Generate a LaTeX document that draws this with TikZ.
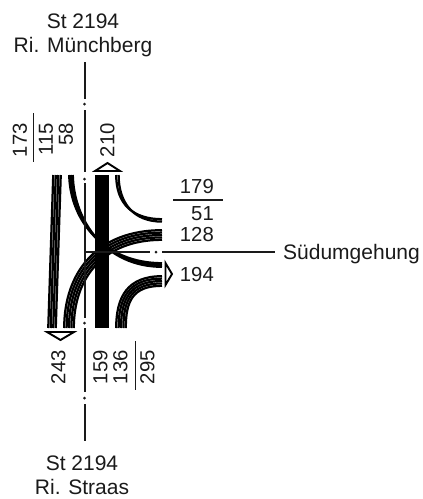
\documentclass[tikz,border=0pt]{standalone}
\usepackage{fontspec}
\setmainfont{Liberation Sans}
\definecolor{ink}{HTML}{1A1A1A}
\tikzset{
  lbl/.style={font=\fontsize{21}{24}\selectfont,inner sep=0pt,text=ink,anchor=base},
  numlbl/.style={font=\fontsize{20.3}{24}\selectfont,inner sep=0pt,text=ink,anchor=base east},
  vlbl/.style={font=\fontsize{20.3}{24}\selectfont,inner sep=0pt,text=ink,rotate=90,anchor=east},
  axis/.style={line width=2pt,ink},
  rulebar/.style={line width=1.8pt,ink},
  strand/.style={line width=2.25pt,black},
  arrowtri/.style={line width=1.9pt,black,fill=white,line join=miter}
}
\begin{document}
\begin{tikzpicture}[x=1pt,y=-1pt]
\useasboundingbox (0,0) rectangle (423,499);
% straight bundles
\foreach \o in {1.25,3.75,6.25,8.75}
  \draw[strand] ({52+\o},175) -- ({47+\o},328);
\foreach \o in {1.2,3.6,6,8.4,10.8,13.2}
  \draw[strand] ({95+\o},175) -- ({95+\o},328);
% turning bundles
\foreach \o in {1.2,3.6}
  \draw[strand] ({115+\o},175) .. controls ({115+\o},{205-\o*.4}) and ({133+\o*.3},{218+\o}) .. (162,{218+\o});
\foreach \o in {1.2,3.6,6,8.4,10.8}
  \draw[strand] ({115+\o},328) .. controls ({115+\o},{296+\o*.5}) and ({127+\o*.5},{275+\o}) .. (162,{275+\o});
\foreach \o in {1.2,3.6,6,8.4,10.8}
  \draw[strand] ({63+\o},328) .. controls ({63+\o},{272+\o*.5}) and ({96+\o*.7},{229+\o}) .. (162,{229+\o});
\foreach \o in {1.2,3,4.8}
  \draw[strand] ({68+\o},175) .. controls ({69+\o},{222}) and ({105+\o*.3},{262+\o}) .. (162,{262+\o});
% axes
\draw[axis] (84.5,62) -- (84.5,99) (84.5,110) -- (84.5,172) (84.5,183) -- (84.5,318) (84.5,328) -- (84.5,392) (84.5,404) -- (84.5,441);
\fill[ink] (84.5,104) circle (1.5) (84.5,179) circle (1.5) (84.5,323) circle (1.5) (84.5,398) circle (1.5);
\draw[axis] (84.5,252) -- (150,252) (162,252) -- (275,252);
\fill[ink] (156,252) circle (1.5);
% arrow triangles
\draw[arrowtri] (95,171) -- (107.5,163) -- (120,171) -- cycle;
\draw[arrowtri] (47,332) -- (60.5,340) -- (74,332) -- cycle;
\draw[arrowtri] (165.5,263) -- (172,274) -- (165.5,285) -- cycle;
% rules
\draw[rulebar] (33.5,113) -- (33.5,162);
\draw[rulebar] (135.5,341) -- (135.5,390);
\draw[rulebar] (173,200) -- (223,200);
% labels
\node[lbl] (t1) at (83,28) {St 2194};
\node[lbl] (t2) at (83,52) {Ri. Münchberg};
\node[lbl] (b1) at (82,470) {St 2194};
\node[lbl] (b2) at (82,494) {Ri. Straas};
\node[lbl,anchor=base west] (r) at (283,259) {Südumgehung};
\node[numlbl] (a) at (214,193) {179};
\node[numlbl] (c) at (214,220) {51};
\node[numlbl] (d) at (214,241) {128};
\node[numlbl] (e) at (214,281) {194};
\node[vlbl] (f) at (20,123) {173};
\node[vlbl] (g) at (46,123) {115};
\node[vlbl] (h) at (66,123) {58};
\node[vlbl] (i) at (107.5,123) {210};
\node[vlbl] (j) at (58.5,350) {243};
\node[vlbl] (k) at (100.5,350) {159};
\node[vlbl] (l) at (120.5,350) {136};
\node[vlbl] (m) at (147.5,350) {295};
\end{tikzpicture}
\end{document}
